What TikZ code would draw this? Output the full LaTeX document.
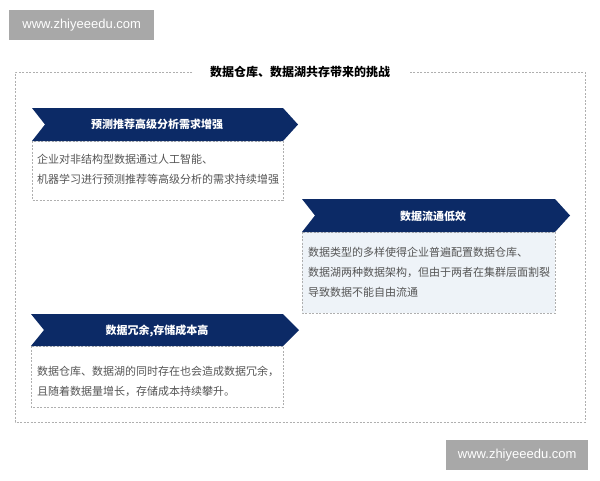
\documentclass[tikz,border=0pt]{standalone}
\usepackage{fontspec}
\setmainfont{Noto Sans CJK SC}
\newfontfamily\wmfont{Liberation Sans}
\begin{document}
\definecolor{navy}{RGB}{12,42,102}
\definecolor{desc}{RGB}{85,85,85}
\definecolor{wmgray}{RGB}{168,168,168}
\definecolor{pale}{RGB}{238,243,248}
\definecolor{dashc}{RGB}{175,175,175}
\begin{tikzpicture}[x=1pt,y=-1pt,
  dashline/.style={draw=dashc,line width=0.6pt,dash pattern=on 2pt off 1.5pt},
  banner/.style={fill=navy},
  bantext/.style={text=white,font=\fontsize{11}{13}\selectfont\bfseries,inner sep=0pt},
  desctext/.style={text=desc,font=\fontsize{11}{20}\selectfont,align=left,anchor=west,inner sep=0pt},
  wm/.style={fill=wmgray,text=white,font=\wmfont\fontsize{13}{15}\selectfont,inner sep=0pt,minimum height=30pt},
  titletext/.style={text=black,font=\fontsize{12}{14}\selectfont\bfseries,inner sep=0pt}]
\useasboundingbox (0,0) rectangle (600,480);
\fill[white] (0,0) rectangle (600,480);
% watermarks
\node[wm,minimum width=145pt,anchor=north west] (wm1) at (9,10) {www.zhiyeeedu.com};
\node[wm,minimum width=142pt,anchor=north west] (wm2) at (446,440) {www.zhiyeeedu.com};
% outer frame
\node[titletext] (title) at (300,72) {数据仓库、数据湖共存带来的挑战};
\draw[dashline] (192,72) -- (15,72) -- (15,422) -- (585,422) -- (585,72) -- (408,72);
% box 1
\draw[dashline,fill=white] (32,141) rectangle (283,200);
\fill[banner] (32,108) -- (283,108) -- (298,124.5) -- (283,141) -- (32,141) -- (45,124.5) -- cycle;
\node[bantext] (t1) at (157,124.5) {预测推荐高级分析需求增强};
\node[desctext] (d1) at (37,169) {企业对非结构型数据通过人工智能、\\机器学习进行预测推荐等高级分析的需求持续增强};
% box 2
\draw[dashline,fill=pale] (302,232) rectangle (555,313);
\fill[banner] (302,199) -- (555,199) -- (570,215.5) -- (555,232) -- (302,232) -- (315,215.5) -- cycle;
\node[bantext] (t2) at (433,216) {数据流通低效};
\node[desctext] (d2) at (308,272.5) {数据类型的多样使得企业普遍配置数据仓库、\\数据湖两种数据架构，但由于两者在集群层面割裂\\导致数据不能自由流通};
% box 3
\draw[dashline,fill=white] (31,346) rectangle (283,407);
\fill[banner] (31,314) -- (283,314) -- (299,330) -- (283,346) -- (31,346) -- (44,330) -- cycle;
\node[bantext] (t3) at (157,331) {数据冗余,存储成本高};
\node[desctext] (d3) at (37,381) {数据仓库、数据湖的同时存在也会造成数据冗余，\\且随着数据量增长，存储成本持续攀升。};
\end{tikzpicture}
\end{document}
